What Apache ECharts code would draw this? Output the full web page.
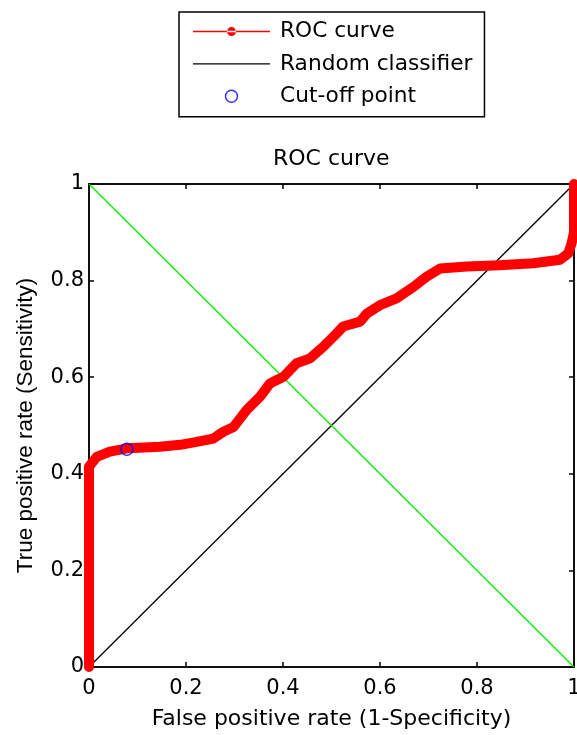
<!DOCTYPE html>
<html><head><meta charset="utf-8">
<script src="https://cdn.jsdelivr.net/npm/echarts@6/dist/echarts.min.js"></script>
<style>html,body{margin:0;padding:0;background:#fff}#c{width:577px;height:735px}</style>
</head><body><div id="c"></div>
<script>
const fpr = [0, 0, 0.016, 0.043, 0.081, 0.146, 0.188, 0.222, 0.256, 0.277, 0.298, 0.325, 0.353, 0.373, 0.401, 0.428, 0.456, 0.483, 0.511, 0.524, 0.559, 0.573, 0.600, 0.634, 0.669, 0.696, 0.724, 0.779, 0.847, 0.916, 0.971, 0.988, 0.995, 1, 1];
const tpr = [0, 0.415, 0.435, 0.446, 0.453, 0.456, 0.460, 0.466, 0.473, 0.487, 0.497, 0.532, 0.560, 0.587, 0.601, 0.629, 0.639, 0.663, 0.691, 0.705, 0.715, 0.732, 0.749, 0.763, 0.787, 0.808, 0.825, 0.829, 0.832, 0.836, 0.843, 0.856, 0.877, 0.9, 1];
const randomX = [0, 1], randomY = [0, 1];
const refX = [0, 1], refY = [1, 0];
const cutoff = [0.078, 0.451];
const tickValues = [0, 0.2, 0.4, 0.6, 0.8, 1];

const wide = '"DejaVu Sans", sans-serif';
const narrow = '"Liberation Sans", Arial, sans-serif';
const chart = echarts.init(document.getElementById('c'));
const axisCommon = {
  type: 'value', min: tickValues[0], max: tickValues[tickValues.length - 1], interval: tickValues[1] - tickValues[0],
  splitLine: {show: false},
  axisLine: {show: true, onZero: false, lineStyle: {color: '#000', width: 1.5}},
  axisTick: {show: true, inside: true, length: 5, lineStyle: {color: '#000', width: 1.5}}
};
chart.setOption({
  animation: false,
  title: {text: 'ROC curve', left: 273, top: 148, padding: 0,
    textStyle: {fontFamily: wide, fontSize: 22, fontWeight: 'normal', color: '#000'}},
  legend: {
    orient: 'vertical', left: 179, top: 12,
    borderColor: '#000', borderWidth: 1.5,
    padding: [8.6, 12, 9.6, 14], itemGap: 10.3, itemWidth: 77, itemHeight: 12,
    textStyle: {fontFamily: wide, fontSize: 21.7, lineHeight: 22, color: '#000', padding: [0, 0, 0, 5]},
    data: [
      {name: 'ROC curve', icon: 'path://M0,3.5 L77,3.5 L77,5 L0,5 Z M34,4.25 A4.5,4.5 0 1,0 43,4.25 A4.5,4.5 0 1,0 34,4.25 Z',
       itemStyle: {color: '#ff0000', borderWidth: 0}},
      {name: 'Random classifier', icon: 'path://M0,0 L77,0 L77,1.3 L0,1.3 Z', itemStyle: {color: '#000', borderWidth: 0}},
      {name: 'Cut-off point', icon: 'circle', itemStyle: {color: 'rgba(255,255,255,0)', borderColor: '#0000ff', borderWidth: 1.5}}
    ]
  },
  grid: {left: 89, right: 3, top: 184, bottom: 68, outerBoundsMode: 'none', containLabel: false,
    show: true, borderColor: '#000', borderWidth: 1.5},
  xAxis: [
    Object.assign({}, axisCommon, {position: 'bottom',
      name: 'False positive rate (1-Specificity)', nameLocation: 'middle', nameGap: 41,
      nameTextStyle: {fontFamily: wide, fontSize: 22, color: '#000'},
      axisLabel: {fontFamily: wide, fontSize: 21, color: '#000', margin: 11}}),
    Object.assign({}, axisCommon, {position: 'top', axisLabel: {show: false}})
  ],
  yAxis: [
    Object.assign({}, axisCommon, {position: 'left',
      name: 'True positive rate (Sensitivity)', nameLocation: 'middle', nameGap: 52,
      nameTextStyle: {fontFamily: narrow, fontSize: 22.5, color: '#000'},
      axisLabel: {fontFamily: wide, fontSize: 21, color: '#000', margin: 5}}),
    Object.assign({}, axisCommon, {position: 'right', axisLabel: {show: false}})
  ],
  series: [
    {name: 'ROC curve', type: 'line', clip: false, data: fpr.map((x, i) => [x, tpr[i]]),
     symbol: 'circle', symbolSize: 7, showSymbol: false, color: '#ff0000',
     lineStyle: {color: '#ff0000', width: 10, cap: 'round', join: 'round'}, z: 3},
    {name: 'Random classifier', type: 'line', data: randomX.map((x, i) => [x, randomY[i]]),
     symbol: 'none', color: '#000', lineStyle: {color: '#000', width: 1.3}, z: 2},
    {name: 'ref', type: 'line', data: refX.map((x, i) => [x, refY[i]]),
     symbol: 'none', color: '#00ff00', lineStyle: {color: '#00ee00', width: 1.3}, z: 2},
    {name: 'Cut-off point', type: 'scatter', data: [cutoff], symbol: 'circle', symbolSize: 12,
     itemStyle: {color: 'rgba(255,255,255,0)', borderColor: '#0000ff', borderWidth: 1.5}, z: 5}
  ]
});
</script></body></html>
